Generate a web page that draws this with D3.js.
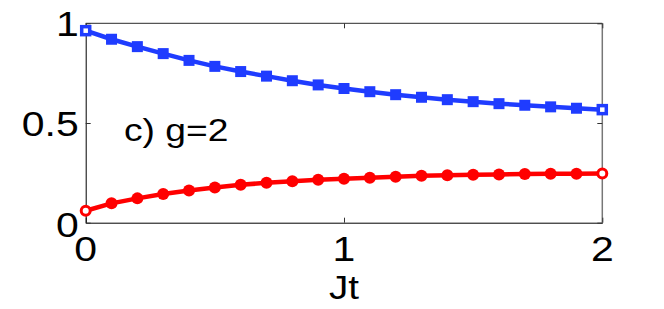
<!DOCTYPE html>
<html>
<head>
<meta charset="utf-8">
<script src="https://cdn.jsdelivr.net/npm/d3@7"></script>
<style>
  body { margin: 0; background: #fff; }
  text { font-family: "Liberation Sans", Arial, sans-serif; fill: #000; }
</style>
</head>
<body>
<div id="chart"></div>
<script>
// data
var jt = [0, 0.1, 0.2, 0.3, 0.4, 0.5, 0.6, 0.7, 0.8, 0.9, 1.0,
          1.1, 1.2, 1.3, 1.4, 1.5, 1.6, 1.7, 1.8, 1.9, 2.0];
var blueSeries = [0.963, 0.920, 0.883, 0.848, 0.814, 0.784, 0.758, 0.735, 0.712, 0.691, 0.673,
                  0.657, 0.642, 0.629, 0.617, 0.607, 0.597, 0.589, 0.581, 0.574, 0.567];
var redSeries = [0.060, 0.097, 0.122, 0.144, 0.162, 0.177, 0.190, 0.200, 0.208, 0.215, 0.220,
                 0.226, 0.231, 0.235, 0.238, 0.240, 0.242, 0.244, 0.245, 0.246, 0.247];
var xTicks = [0, 1, 2];
var yTicks = [0, 0.5, 1];
var yTickLabels = ["0", "0.5", "1"];
var panelLabel = "c) g=2";
var xLabel = "Jt";

// set the dimensions and margins of the graph
var margin = { top: 23.3, right: 61.7, bottom: 86.3, left: 85.7 },
  width = 664 - margin.left - margin.right,
  height = 309 - margin.top - margin.bottom;

var svg = d3.select("#chart")
  .append("svg")
  .attr("width", 664)
  .attr("height", 309)
  .append("g")
  .attr("transform", "translate(" + margin.left + "," + margin.top + ")");

var x = d3.scaleLinear().domain([0, 2]).range([0, width]);
var y = d3.scaleLinear().domain([0, 1]).range([height, 0]);

// box: top and right edges lighter
svg.append("line").attr("x1", 0).attr("x2", width).attr("y1", 0).attr("y2", 0)
  .attr("stroke", "#555").attr("stroke-width", 1.2);
svg.append("line").attr("x1", width).attr("x2", width).attr("y1", 0).attr("y2", height)
  .attr("stroke", "#777").attr("stroke-width", 1.5);

// axes with inward ticks
var tickLen = 5;
var xAxis = svg.append("g").attr("transform", "translate(0," + height + ")")
  .call(d3.axisBottom(x).tickValues(xTicks).tickSize(-tickLen).tickSizeOuter(0).tickFormat(""));
var yAxis = svg.append("g")
  .call(d3.axisLeft(y).tickValues(yTicks).tickSize(-tickLen).tickSizeOuter(0).tickFormat(""));
svg.append("g")
  .call(d3.axisTop(x).tickValues(xTicks).tickSize(-tickLen).tickSizeOuter(0).tickFormat(""))
  .select(".domain").remove();
svg.append("g").attr("transform", "translate(" + width + ",0)")
  .call(d3.axisRight(y).tickValues(yTicks).tickSize(-tickLen).tickSizeOuter(0).tickFormat(""))
  .select(".domain").remove();
svg.selectAll(".tick line").attr("stroke", "#333");
xAxis.select(".domain").attr("stroke", "#000");
yAxis.select(".domain").attr("stroke", "#000");

// tick labels (the figure is stretched horizontally)
var stretch = 1.17;
xTicks.forEach(function (v) {
  svg.append("text")
    .attr("transform", "translate(" + x(v) + "," + (height + 38) + ") scale(" + stretch + ",1)")
    .attr("text-anchor", "middle")
    .style("font-size", "35px")
    .text(v);
});
yTicks.forEach(function (v, i) {
  var dy = i === 0 ? 14.5 : 12.5;
  svg.append("text")
    .attr("transform", "translate(-7," + (y(v) + dy) + ") scale(" + stretch + ",1)")
    .attr("text-anchor", "end")
    .style("font-size", "35px")
    .text(yTickLabels[i]);
});

svg.append("text")
  .attr("transform", "translate(" + x(1) + "," + (height + 76) + ") scale(" + stretch + ",1)")
  .attr("text-anchor", "middle")
  .style("font-size", "33px")
  .text(xLabel);

svg.append("text")
  .attr("transform", "translate(" + x(0.148) + "," + y(0.41) + ") scale(1.2,1)")
  .style("font-size", "31px")
  .text(panelLabel);

// lines
var line = function (vals) {
  return d3.line()
    .x(function (d, i) { return x(jt[i]); })
    .y(function (d) { return y(d); })(vals);
};
var blue = "#1f3cff", red = "#ff0000";
var last = jt.length - 1;
var isEnd = function (i) { return i === 0 || i === last; };

svg.append("path").attr("d", line(blueSeries))
  .attr("fill", "none").attr("stroke", blue).attr("stroke-width", 4.5);
svg.append("path").attr("d", line(redSeries))
  .attr("fill", "none").attr("stroke", red).attr("stroke-width", 4.5);

// square markers
svg.append("g").selectAll("rect")
  .data(blueSeries)
  .enter().append("rect")
  .attr("x", function (d, i) { return x(jt[i]) - (isEnd(i) ? 4 : 5.5); })
  .attr("y", function (d, i) { return y(d) - (isEnd(i) ? 4 : 5.5); })
  .attr("width", function (d, i) { return isEnd(i) ? 8 : 11; })
  .attr("height", function (d, i) { return isEnd(i) ? 8 : 11; })
  .attr("fill", function (d, i) { return isEnd(i) ? "#fff" : blue; })
  .attr("stroke", blue)
  .attr("stroke-width", function (d, i) { return isEnd(i) ? 3.5 : 0; });

// circle markers
svg.append("g").selectAll("circle")
  .data(redSeries)
  .enter().append("circle")
  .attr("cx", function (d, i) { return x(jt[i]); })
  .attr("cy", function (d) { return y(d); })
  .attr("r", function (d, i) { return isEnd(i) ? 4.5 : 6; })
  .attr("fill", function (d, i) { return isEnd(i) ? "#fff" : red; })
  .attr("stroke", red)
  .attr("stroke-width", function (d, i) { return isEnd(i) ? 3 : 0; });
</script>
</body>
</html>
